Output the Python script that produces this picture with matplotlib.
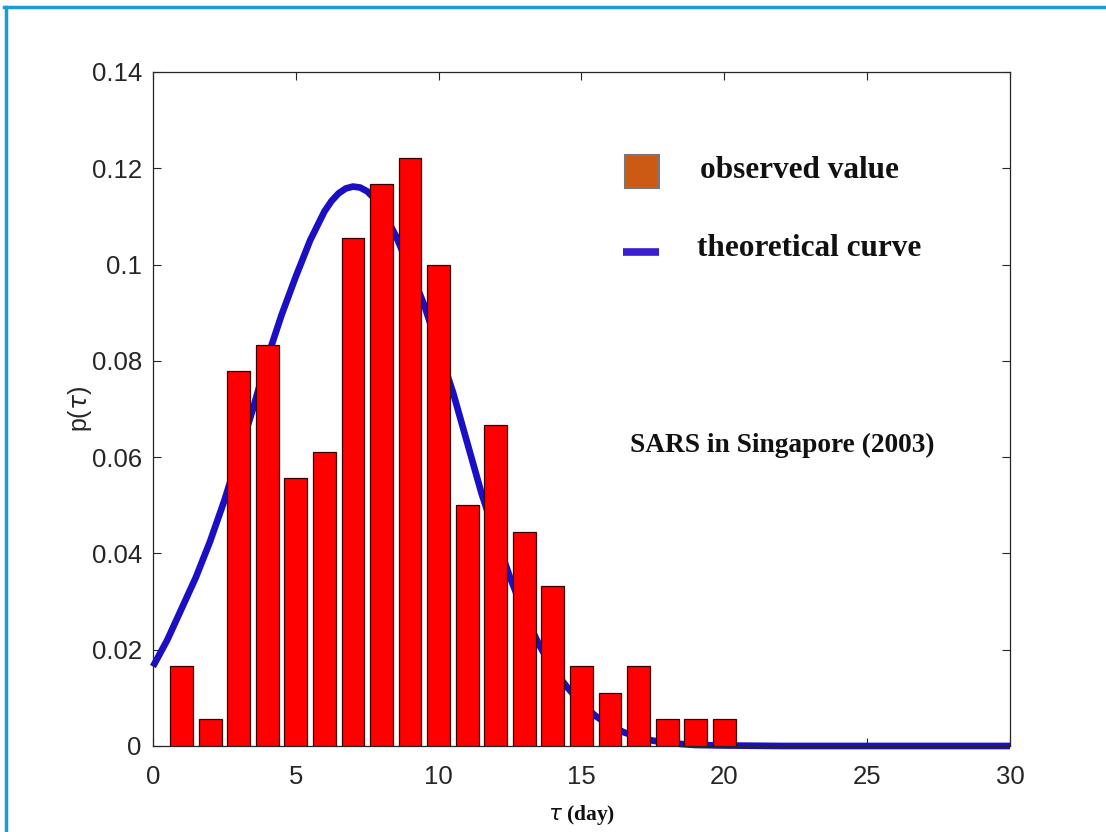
import matplotlib
matplotlib.use("Agg")
import matplotlib.pyplot as plt
from matplotlib.lines import Line2D
from matplotlib.patches import Rectangle

# ---- data ----
days = [1, 2, 3, 4, 5, 6, 7, 8, 9, 10, 11, 12, 13, 14, 15, 16, 17, 18, 19, 20]
observed = [0.0167, 0.0056, 0.0778, 0.0833, 0.0556, 0.0611, 0.1056, 0.1167,
            0.1222, 0.1000, 0.0500, 0.0667, 0.0444, 0.0333, 0.0167, 0.0111,
            0.0167, 0.0056, 0.0056, 0.0056]

curve_x = [0, 0.5, 1, 1.5, 2, 2.5, 3, 3.5, 4, 4.5, 5, 5.5, 6, 6.25, 6.5, 6.75,
           7, 7.25, 7.5, 7.75, 8, 8.5, 9, 9.5, 10, 10.5, 11, 11.5, 12, 12.5,
           13, 13.5, 14, 14.5, 15, 15.5, 16, 16.5, 17, 17.5, 18, 18.5, 19, 20,
           22, 25, 30]
curve_y = [0.0165, 0.022, 0.0285, 0.035, 0.0425, 0.051, 0.0605, 0.070, 0.0805,
           0.0895, 0.0975, 0.105, 0.111, 0.1132, 0.1148, 0.1158, 0.1162,
           0.1160, 0.1152, 0.1137, 0.1115, 0.106, 0.099, 0.0915, 0.0825,
           0.0735, 0.063, 0.0525, 0.0435, 0.035, 0.0275, 0.0212, 0.016, 0.0122,
           0.0088, 0.0062, 0.0042, 0.0028, 0.0018, 0.0011, 0.0007, 0.0004,
           0.0002, 0.0001, 0.0, 0.0, 0.0]

xticks = [0, 5, 10, 15, 20, 25, 30]
yticks = [0, 0.02, 0.04, 0.06, 0.08, 0.1, 0.12, 0.14]
ytick_labels = ["0", "0.02", "0.04", "0.06", "0.08", "0.1", "0.12", "0.14"]

# ---- figure ----
fig = plt.figure(figsize=(11.06, 8.32), dpi=100)
fig.patch.set_facecolor("white")
ax = fig.add_axes([0.1383, 0.1034, 0.7749, 0.8101])

curve_color = "#1a0fc4"
ax.plot(curve_x, curve_y, color=curve_color, lw=4.8, zorder=2,
        solid_capstyle="butt", solid_joinstyle="round", clip_on=False)
ax.bar(days, observed, width=0.8, color="#ff0000", edgecolor="#3a0000",
       linewidth=0.9, zorder=3)

ax.set_xlim(0, 30)
ax.set_ylim(0, 0.14)
ax.set_xticks(xticks)
ax.set_xticklabels([str(t) for t in xticks])
ax.set_yticks(yticks)
ax.set_yticklabels(ytick_labels)

tick_font = "Liberation Sans"
for lab in ax.get_xticklabels() + ax.get_yticklabels():
    lab.set_fontfamily(tick_font)
    lab.set_fontsize(18.5)
    lab.set_color("#262626")
ax.tick_params(axis="both", direction="in", top=True, right=True, length=6,
               width=0.8, color="#262626")
ax.tick_params(axis="y", pad=8)
ax.tick_params(axis="x", pad=14)
for s in ax.spines.values():
    s.set_linewidth(0.9)
    s.set_color("#262626")

ax.set_ylabel(r"p($\tau$)", fontsize=18, family=tick_font, color="#262626")
ax.yaxis.set_label_coords(-0.085, 0.5)
ax.yaxis.label.set_va("center")
ax.set_xlabel(r"$\tau$ (day)", fontsize=15.5, family="Liberation Serif",
              fontweight="bold", color="#111111")
ax.xaxis.set_label_coords(0.5, -0.1024)
ax.xaxis.label.set_va("center")

# legend-like annotations
ax.add_patch(Rectangle((16.52, 0.1159), 1.19, 0.0069, transform=ax.transData,
                       facecolor="#cc5a14", edgecolor="#777777", lw=1.5,
                       clip_on=False, zorder=5))
ax.plot([16.45, 17.71], [0.1026, 0.1026], color="#3a1fd0", lw=5.5,
        solid_capstyle="butt", zorder=5)
ax.text(19.15, 0.1196, "observed value", fontsize=22.5, family="Liberation Serif",
        fontweight="bold", va="center", ha="left", color="#111111")
ax.text(19.04, 0.1034, "theoretical curve", fontsize=22.5, family="Liberation Serif",
        fontweight="bold", va="center", ha="left", color="#111111")
ax.text(16.7, 0.0625, "SARS in Singapore (2003)", fontsize=19.7,
        family="Liberation Serif", fontweight="bold", va="center", ha="left",
        color="#111111")

# screenshot frame lines (top and left)
fig.add_artist(Line2D([0.004, 1.0], [0.9915, 0.9915], color="#1e9ad6", lw=2.5,
                      transform=fig.transFigure))
fig.add_artist(Line2D([0.0055, 0.0055], [0.0, 0.9915], color="#1e9ad6", lw=2.5,
                      transform=fig.transFigure))

fig.savefig("out.png", dpi=100)
